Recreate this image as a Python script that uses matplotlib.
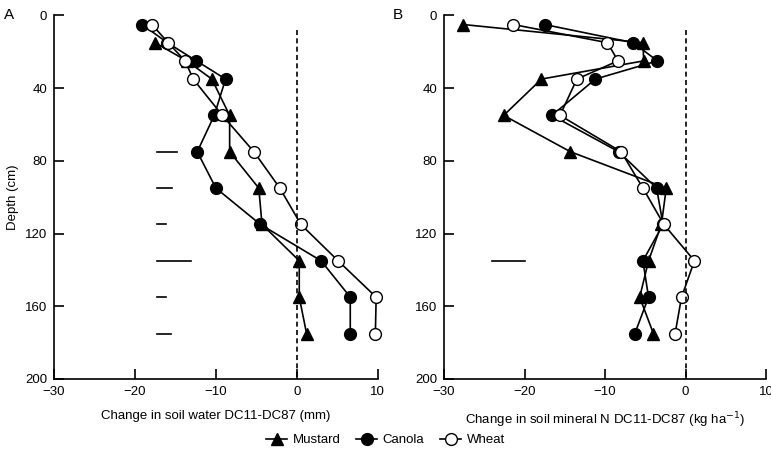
import numpy as np
import matplotlib as mpl
mpl.use('Agg')
import matplotlib.pyplot as plt

plt.rcParams['font.family'] = ['Liberation Sans', 'DejaVu Sans']

# Panel A: change in soil water (mm)
depth_a_mustard = [15, 25, 35, 55, 75, 95, 115, 135, 155, 175]
water_mustard = [-17.5, -13.6, -10.5, -8.3, -8.3, -4.7, -4.3, 0.3, 0.3, 1.2]
depth_a = [5, 15, 25, 35, 55, 75, 95, 115, 135, 155, 175]
water_canola = [-19.1, -16.0, -12.4, -8.8, -10.2, -12.3, -10.0, -4.5, 3.0, 6.6, 6.6]
water_wheat = [-17.9, -15.9, -13.8, -12.8, -9.2, -5.3, -2.1, 0.5, 5.1, 9.8, 9.7]

# LSD bars, panel A
lsd_a_depth = [75, 95, 115, 135, 155, 175]
lsd_a_len = [2.5, 1.9, 1.2, 4.2, 1.2, 1.8]
lsd_a_start = -17.3

# Panel B: change in soil mineral N (kg/ha)
depth_b = [5, 15, 25, 35, 55, 75, 95, 115, 135, 155, 175]
n_mustard = [-27.6, -5.3, -5.2, -17.9, -22.6, -14.3, -2.4, -3.0, -4.6, -5.7, -4.0]
n_canola = [-17.5, -6.5, -3.5, -11.2, -16.6, -8.3, -3.6, -2.8, -5.3, -4.6, -6.3]
n_wheat = [-21.4, -9.7, -8.4, -13.5, -15.6, -8.0, -5.3, -2.7, 1.1, -0.5, -1.3]

lsd_b_depth = [135]
lsd_b_len = [4.1]
lsd_b_start = -24.1

xticks = [-30, -20, -10, 0, 10]
yticks = [0, 40, 80, 120, 160, 200]

fig = plt.figure(figsize=(7.71, 4.61), dpi=100)
ax_a = fig.add_axes([0.070, 0.178, 0.420, 0.7885])
ax_b = fig.add_axes([0.576, 0.178, 0.4176, 0.7885])

style = dict(color='black', lw=1.2, markersize=8.5, clip_on=False,
             markeredgecolor='black', markeredgewidth=1.0)


def draw_panel(ax, series, lsd_depth, lsd_len, lsd_start, xlabel, letter):
    handles = []
    for (d, v, m, fc, name) in series:
        h, = ax.plot(v, d, marker=m, markerfacecolor=fc, label=name, **style)
        handles.append(h)
    for d, l in zip(lsd_depth, lsd_len):
        ax.plot([lsd_start, lsd_start + l], [d, d], color='black', lw=1.2)
    ax.plot([0, 0], [8, 200], color='black', lw=1.2, ls=(0, (3, 2)))
    ax.set_xlim(-30, 10)
    ax.set_ylim(200, 0)
    ax.set_xticks(xticks)
    ax.set_yticks(yticks)
    ax.set_xticklabels([str(t).replace('-', '\u2212') for t in xticks])
    ax.spines['top'].set_visible(False)
    ax.spines['right'].set_visible(False)
    ax.spines['left'].set_linewidth(1.2)
    ax.spines['bottom'].set_linewidth(1.2)
    ax.tick_params(direction='in', length=7, width=1.2, labelsize=9.5, pad=5)
    ax.set_xlabel(xlabel, fontsize=9.5, labelpad=9)
    ax.text(-0.155 if letter == 'A' else -0.16, 1.0, letter, transform=ax.transAxes,
            fontsize=11, va='center', ha='left')
    return handles


handles = draw_panel(ax_a,
                     [(depth_a_mustard, water_mustard, '^', 'black', 'Mustard'),
                      (depth_a, water_canola, 'o', 'black', 'Canola'),
                      (depth_a, water_wheat, 'o', 'white', 'Wheat')],
                     lsd_a_depth, lsd_a_len, lsd_a_start,
                     'Change in soil water DC11-DC87 (mm)', 'A')
ax_a.set_ylabel('Depth (cm)', fontsize=9.5, labelpad=4)

draw_panel(ax_b,
           [(depth_b, n_mustard, '^', 'black', 'Mustard'),
            (depth_b, n_canola, 'o', 'black', 'Canola'),
            (depth_b, n_wheat, 'o', 'white', 'Wheat')],
           lsd_b_depth, lsd_b_len, lsd_b_start,
           'Change in soil mineral N DC11-DC87 (kg ha$^{-1}$)', 'B')

fig.legend(handles=handles, loc='center', bbox_to_anchor=(0.5, 0.045), ncol=3,
           frameon=False, fontsize=9.5, handlelength=1.6, columnspacing=1.2,
           handletextpad=0.4)

fig.savefig('out.png', dpi=100)
